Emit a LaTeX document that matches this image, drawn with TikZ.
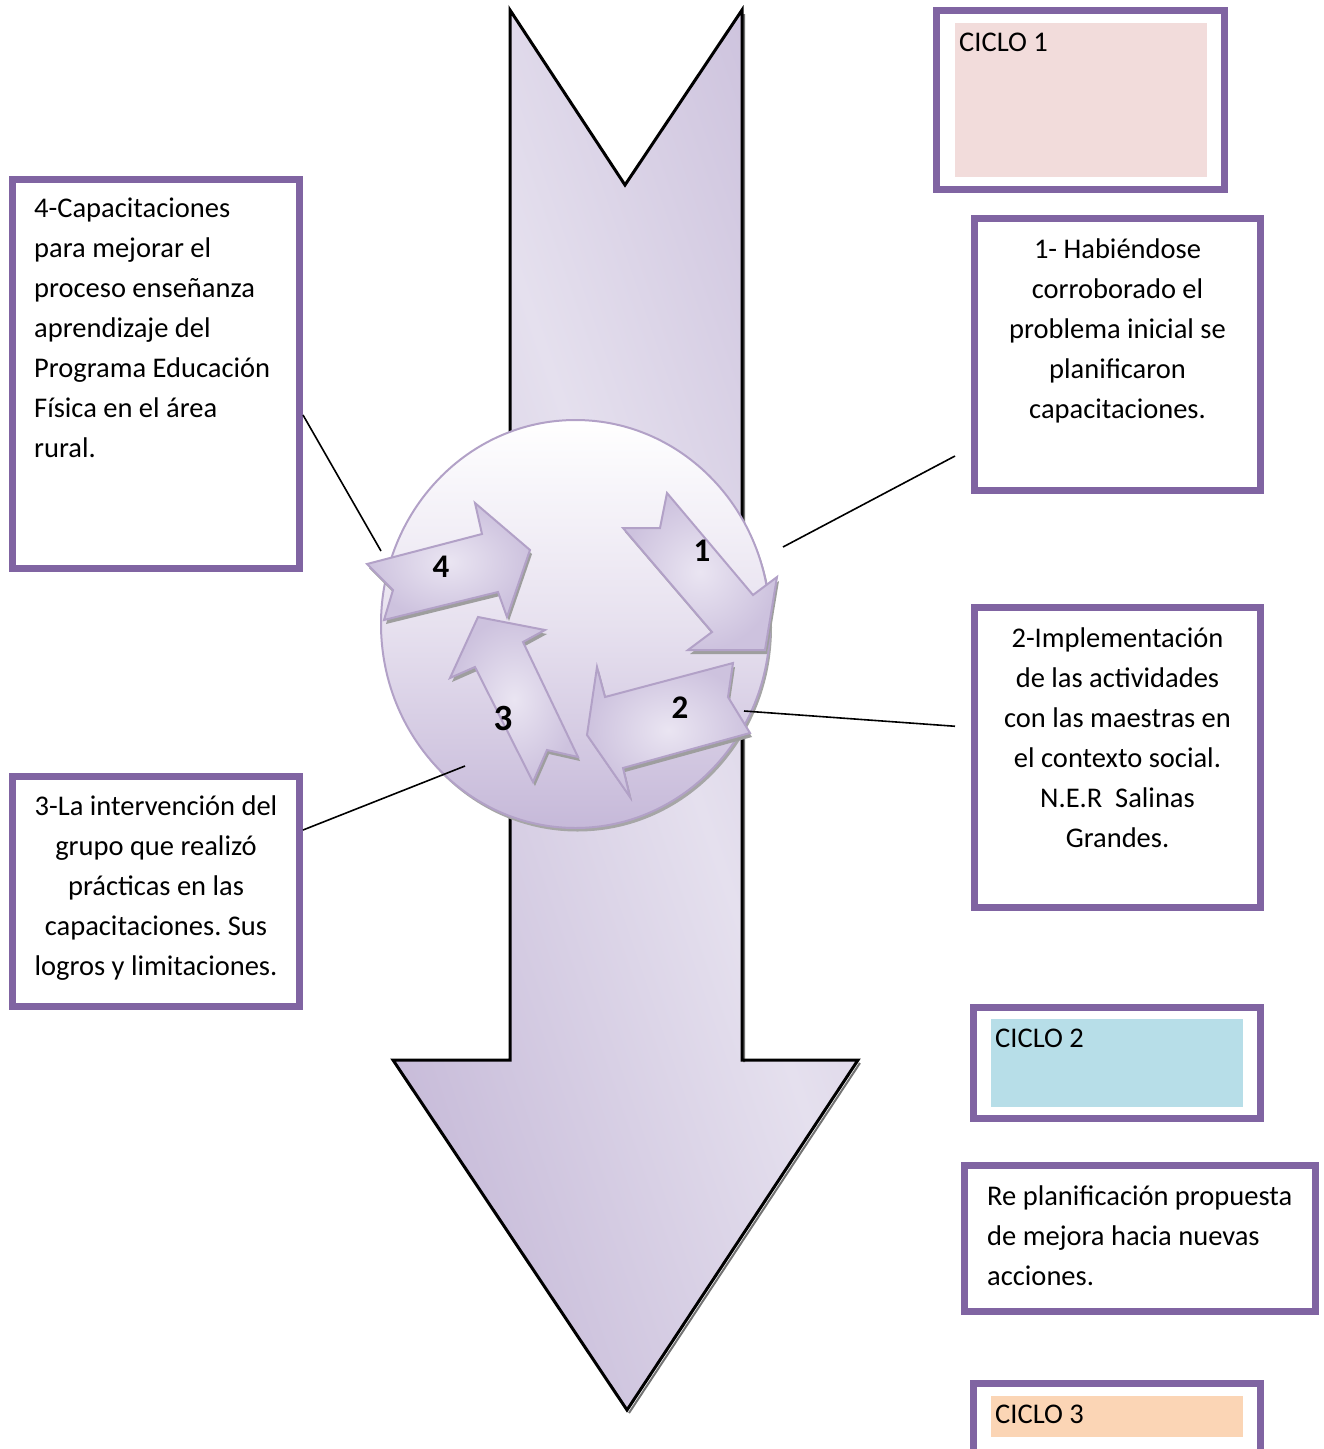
\documentclass[tikz,border=0pt]{standalone}
\usepackage{fontspec}
\setmainfont{Carlito}
\usetikzlibrary{calc}
\frenchspacing
\definecolor{boxpurple}{HTML}{8064A2}
\definecolor{pinkfill}{HTML}{F2DCDB}
\definecolor{bluefill}{HTML}{B7DEE8}
\definecolor{peachfill}{HTML}{FBD5B5}
\definecolor{ringline}{HTML}{B2A1C7}
\definecolor{bad}{HTML}{B6A6CD}
\definecolor{bal}{HTML}{E5E0EE}
\definecolor{balldark}{HTML}{C6B9D9}
\definecolor{ballmid}{HTML}{E7E1EF}
\definecolor{arrin}{HTML}{EAE5F2}
\definecolor{arrout}{HTML}{CDC2DE}
\pgfdeclarehorizontalshading{bigarrowshade}{100bp}{color(0bp)=(bad); color(35bp)=(bad); color(50bp)=(bal); color(65bp)=(bad); color(100bp)=(bad)}
\begin{document}
\begin{tikzpicture}[x=1pt,y=-1pt,
  box/.style={draw=boxpurple, line width=7pt, rectangle, inner sep=0pt},
  txt/.style={font=\fontsize{28.5}{40}\selectfont, inner sep=0pt},
  numlab/.style={font=\bfseries\fontsize{33}{33}\selectfont, inner sep=0pt},
  conn/.style={draw=black, line width=1.6pt},
  cyc/.style={draw=ringline, line width=2pt, inner color=arrin, outer color=arrout, line join=miter},
  cycshadow/.style={fill=black!38}
]
\useasboundingbox (0,0) rectangle (1324,1449);
\clip (0,0) rectangle (1324,1449);

% big arrow
\begin{scope}
\clip (510,10) -- (625,185) -- (742,10) -- (742,1060) -- (858,1060) -- (627,1410) -- (393,1060) -- (510,1060) -- cycle;
\shade[shading=bigarrowshade, shading angle=19] (-345,-325) rectangle (1655,1675);
\end{scope}
\draw[black!55, line width=2pt, line join=miter] (744,14) -- (744,1062) (860,1063) -- (629,1413);
\draw[draw=black, line width=3pt, line join=miter]
  (510,10) -- (625,185) -- (742,10) -- (742,1060) -- (858,1060) -- (627,1410) -- (393,1060) -- (510,1060) -- cycle;

% circle
\fill[black!35] (577.5,627.5) ellipse [x radius=194.5, y radius=204];
\shadedraw[top color=white, bottom color=balldark, middle color=ballmid, draw=ringline, line width=2pt]
  (575.5,624) ellipse [x radius=194.5, y radius=204];

% cycle arrows: shadows
\begin{scope}[shift={(2,4)}]
\fill[cycshadow] (623,528) -- (660,528) -- (667,493) -- (753,595) -- (777,577) -- (765,650) -- (688,650) -- (712,632) -- cycle;
\fill[cycshadow] (605,697) -- (733,663) -- (728,697) -- (750,733) -- (623,768) -- (630,797) -- (587,735) -- (597,667) -- cycle;
\fill[cycshadow] (478,617) -- (545,630) -- (523,642) -- (578,757) -- (547,750) -- (533,782) -- (475,667) -- (450,678) -- cycle;
\fill[cycshadow] (367,564) -- (482,534) -- (475,503) -- (530,550) -- (507,617) -- (498,592) -- (384,620) -- (393,590) -- cycle;
\end{scope}
% cycle arrows
\shadedraw[cyc] (623,528) -- (660,528) -- (667,493) -- (753,595) -- (777,577) -- (765,650) -- (688,650) -- (712,632) -- cycle;
\shadedraw[cyc] (605,697) -- (733,663) -- (728,697) -- (750,733) -- (623,768) -- (630,797) -- (587,735) -- (597,667) -- cycle;
\shadedraw[cyc] (478,617) -- (545,630) -- (523,642) -- (578,757) -- (547,750) -- (533,782) -- (475,667) -- (450,678) -- cycle;
\shadedraw[cyc] (367,564) -- (482,534) -- (475,503) -- (530,550) -- (507,617) -- (498,592) -- (384,620) -- (393,590) -- cycle;

\node[numlab] (n1) at (702,551) {1};
\node[numlab] (n2) at (680,708) {2};
\node[numlab, font=\bfseries\fontsize{37}{37}\selectfont] (n3) at (503,718) {3};
\node[numlab] (n4) at (441,567) {4};

% boxes
\node[box, minimum width=288pt, minimum height=179pt] (c1box) at (1080.5,100) {};
\node[fill=pinkfill, minimum width=252pt, minimum height=154pt, inner sep=0pt] (c1fill) at (1081,100) {};
\node[txt, anchor=base west] (c1t) at (959,51) {CICLO 1};

\node[box, minimum width=286pt, minimum height=272pt] (box1) at (1117.5,354) {};
\node[txt, anchor=north, align=center] (t1) at (1117.5,230)
  {\strut 1- Habiéndose\\corroborado el\\problema inicial se\\planificaron\\capacitaciones.};

\node[box, minimum width=286pt, minimum height=299.5pt] (box2) at (1117.5,757.25) {};
\node[txt, anchor=north, align=center] (t2) at (1117.5,619)
  {\strut 2-Implementación\\de las actividades\\con las maestras en\\el contexto social.\\N.E.R~ Salinas\\Grandes.};

\node[box, minimum width=287pt, minimum height=111pt] (c2box) at (1117,1063) {};
\node[fill=bluefill, minimum width=252pt, minimum height=88pt, inner sep=0pt] (c2fill) at (1117,1063) {};
\node[txt, anchor=base west] (c2t) at (995,1047) {CICLO 2};

\node[box, minimum width=351pt, minimum height=146pt] (rebox) at (1140,1238.5) {};
\node[txt, anchor=north west, align=left] (tre) at (987,1177)
  {\strut Re planificación propuesta\\de mejora hacia nuevas\\acciones.};

\node[box, minimum width=287pt, minimum height=106.5pt] (c3box) at (1117,1436.75) {};
\node[fill=peachfill, minimum width=252pt, minimum height=41pt, inner sep=0pt] (c3fill) at (1117,1416.5) {};
\node[txt, anchor=base west] (c3t) at (995,1423) {CICLO 3};

\node[box, minimum width=287pt, minimum height=389pt] (box4) at (156,373.5) {};
\node[txt, anchor=north west, align=left] (t4) at (34,189)
  {\strut 4-Capacitaciones\\para mejorar el\\proceso enseñanza\\aprendizaje del\\Programa Educación\\Física en el área\\rural.};

\node[box, minimum width=287pt, minimum height=230pt] (box3) at (156,891) {};
\node[txt, anchor=north, align=center] (t3) at (156,787)
  {\strut 3-La intervención del\\grupo que realizó\\prácticas en las\\capacitaciones. Sus\\logros y limitaciones.};

% connectors
\coordinate (e4) at (381,551);
\coordinate (e1) at (783,547);
\coordinate (e2) at (744,711);
\coordinate (e3) at (465,766);
\draw[conn] ([yshift=-41.5pt]box4.east) -- (e4);
\draw[conn] ([xshift=-16pt,yshift=-102pt]box1.west) -- (e1);
\draw[conn] ([xshift=-16pt,yshift=31pt]box2.west) -- (e2);
\draw[conn] ([yshift=61pt]box3.east) -- (e3);
\end{tikzpicture}
\end{document}
